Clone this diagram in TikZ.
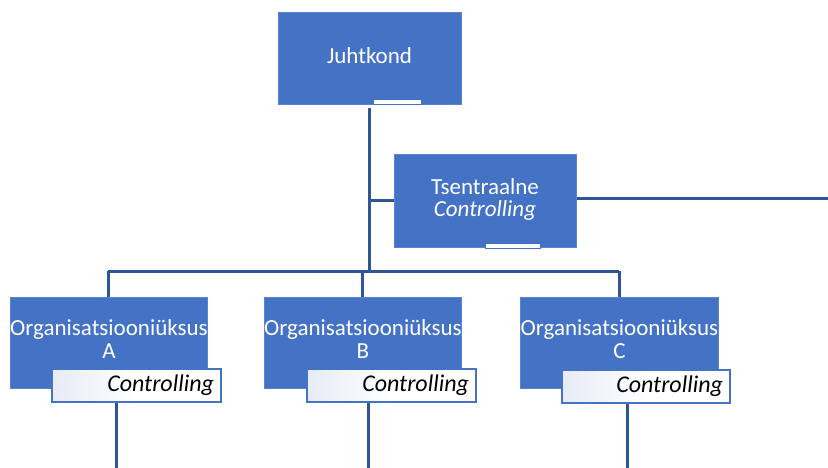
\documentclass[tikz,border=0pt]{standalone}
\usepackage{fontspec}
\setmainfont{Carlito}
\definecolor{boxblue}{HTML}{4472C4}
\definecolor{boxedge}{HTML}{5B84D0}
\definecolor{linkblue}{HTML}{2F5597}
\definecolor{shade}{HTML}{E6EBF6}
\newcommand{\twolines}[3]{\raisebox{#1}{\begin{tabular}{@{}c@{}}#2\\#3\end{tabular}}}
\tikzset{
  unitbox/.style={draw=boxedge, line width=1pt, fill=boxblue, text=white, align=center,
    inner sep=0pt, font=\fontsize{23}{22.5}\selectfont},
  ctrlbox/.style={draw=boxblue, line width=2pt, left color=shade, right color=white,
    middle color=white, minimum height=33pt, inner sep=0pt, align=right,
    font=\fontsize{24}{22}\selectfont\itshape, text=black},
  tabbar/.style={draw=boxblue, line width=1pt, fill=white, minimum height=5pt, inner sep=0pt},
  link/.style={draw=linkblue, line width=3pt},
}
\begin{document}
\begin{tikzpicture}[x=1pt,y=-1pt]
\useasboundingbox (0,0) rectangle (828,468);
% boxes
\node[unitbox, minimum width=183pt, minimum height=92pt] (jk) at (369.5,59) {\raisebox{6pt}{Juhtkond}};
\node[tabbar, minimum width=48pt] (jkbar) at (397,102.5) {};
\node[unitbox, minimum width=182pt, minimum height=92pt] (tc) at (485,201) {\twolines{4pt}{Tsentraalne}{\textit{Controlling}}};
\node[tabbar, minimum width=55pt] (tcbar) at (512.5,245.5) {};

\node[unitbox, minimum width=194pt, minimum height=91pt] (oa) at (109,342.5) {\twolines{5pt}{Organisatsiooniüksus}{A}};
\node[unitbox, minimum width=192pt, minimum height=91pt] (ob) at (363,342.5) {\twolines{5pt}{Organisatsiooniüksus}{B}};
\node[unitbox, minimum width=195pt, minimum height=91pt] (oc) at (619.5,342.5) {\twolines{5pt}{Organisatsiooniüksus}{C}};

\node[ctrlbox, minimum width=169pt, text width=155pt] (ca) at (136.5,385.5) {Controlling};
\node[ctrlbox, minimum width=169pt, text width=155pt] (cb) at (391.5,385.5) {Controlling};
\node[ctrlbox, minimum width=168pt, text width=154pt] (cc) at (646,386) {Controlling};

% coordinates
\coordinate (bus) at (369,271);
\coordinate (busL) at (108,271);
\coordinate (busR) at (619,271);
\coordinate (rend) at (828,199);
\coordinate (botA) at (116,468);
\coordinate (botB) at (368,468);
\coordinate (botC) at (627,468);

% connectors
\draw[link] (369,108) coordinate (jkout) -- (bus);
\draw[link] (jkout |- tc.west) -- (tc.west);
\draw[link] (tc.east |- rend) -- (rend);
\draw[link] (busL) -- (busR);
\draw[link] (busL) -- (busL |- oa.north);
\draw[link] (362,271) -- (362,297) coordinate (obtop);
\draw[link] (busR) -- (busR |- oc.north);
\draw[link] (botA |- ca.south) -- (botA);
\draw[link] (botB |- cb.south) -- (botB);
\draw[link] (botC |- cc.south) -- (botC);
\end{tikzpicture}
\end{document}
